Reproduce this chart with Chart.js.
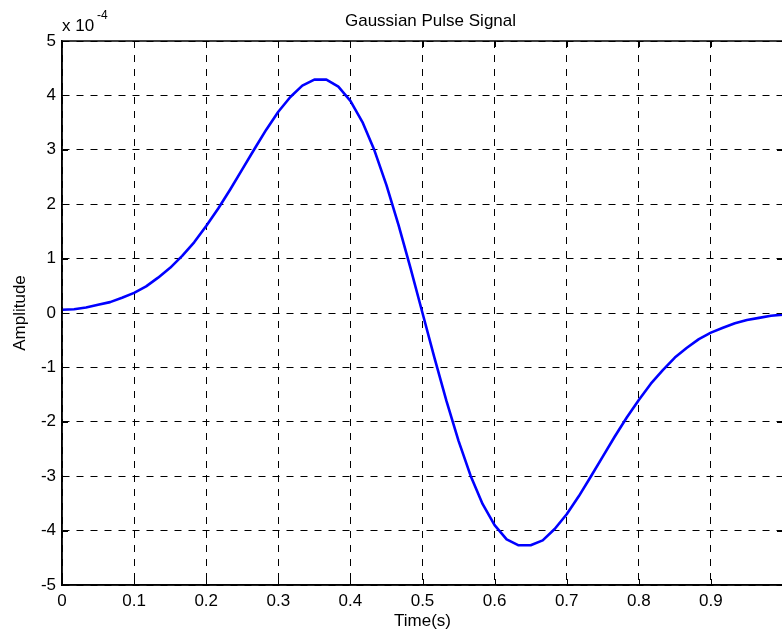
<!DOCTYPE html>
<html>
<head>
<meta charset="utf-8">
<script src="https://cdn.jsdelivr.net/npm/chart.js@4"></script>
<style>
  html, body { margin: 0; padding: 0; background: #fff; overflow: hidden; }
  #wrap { width: 800px; height: 637px; position: relative; }
</style>
</head>
<body>
<div id="wrap"><canvas id="pulse-chart"></canvas></div>
<script>
// time samples (s)
let timeValues = [0, 0.0167, 0.0333, 0.05, 0.0667, 0.0833, 0.1, 0.1167, 0.1333, 0.15,
    0.1667, 0.1833, 0.2, 0.2167, 0.2333, 0.25, 0.2667, 0.2833, 0.3, 0.3167,
    0.3333, 0.35, 0.3667, 0.3833, 0.4, 0.4167, 0.4333, 0.45, 0.4667, 0.4833,
    0.5, 0.5167, 0.5333, 0.55, 0.5667, 0.5833, 0.6, 0.6167, 0.6333, 0.65,
    0.6667, 0.6833, 0.7, 0.7167, 0.7333, 0.75, 0.7667, 0.7833, 0.8, 0.8167,
    0.8333, 0.85, 0.8667, 0.8833, 0.9, 0.9167, 0.9333, 0.95, 0.9667, 0.9833, 1];

// amplitude in units of 1e-4
let amplitudeValues = [0.06, 0.07, 0.10, 0.15, 0.20, 0.28, 0.37, 0.49, 0.65, 0.83,
    1.05, 1.30, 1.60, 1.92, 2.27, 2.64, 3.01, 3.37, 3.70, 3.97,
    4.18, 4.29, 4.29, 4.16, 3.90, 3.51, 2.99, 2.35, 1.62, 0.83,
    0, -0.83, -1.62, -2.35, -2.99, -3.51, -3.90, -4.16, -4.27, -4.27,
    -4.18, -3.97, -3.70, -3.37, -3.01, -2.64, -2.27, -1.92, -1.60, -1.30,
    -1.05, -0.82, -0.64, -0.48, -0.36, -0.27, -0.19, -0.13, -0.09, -0.05, -0.03];

// last label ("1") falls off the right edge of the picture
let xTickLabels = ["0", "0.1", "0.2", "0.3", "0.4", "0.5", "0.6", "0.7", "0.8", "0.9", ""];
let yTickLabels = ["-5", "-4", "-3", "-2", "-1", "0", "1", "2", "3", "4", "5"];

let fontFamily = '"Liberation Sans", Arial, Helvetica, sans-serif';

let points = timeValues.map((t, i) => ({ x: t, y: amplitudeValues[i] }));

// title, axis labels, exponent, box and inward ticks (matlab look)
let matlabDecor = {
    id: 'matlabDecor',
    afterDraw(chart) {
        let ctx = chart.ctx;
        let area = chart.chartArea;
        let xs = chart.scales.x;
        let ys = chart.scales.y;
        ctx.save();

        ctx.strokeStyle = "#000";
        ctx.lineWidth = 1.5;
        ctx.strokeRect(area.left, area.top, area.right - area.left, area.bottom - area.top);

        ctx.lineWidth = 1;
        ctx.beginPath();
        xs.ticks.forEach(tk => {
            let px = Math.round(xs.getPixelForValue(tk.value)) + 0.5;
            ctx.moveTo(px, area.bottom); ctx.lineTo(px, area.bottom - 6);
            ctx.moveTo(px, area.top); ctx.lineTo(px, area.top + 6);
        });
        ys.ticks.forEach(tk => {
            let py = Math.round(ys.getPixelForValue(tk.value)) + 0.5;
            ctx.moveTo(area.left, py); ctx.lineTo(area.left + 6, py);
            ctx.moveTo(area.right, py); ctx.lineTo(area.right - 6, py);
        });
        ctx.stroke();

        ctx.fillStyle = "#000";
        ctx.font = "17px " + fontFamily;
        ctx.textBaseline = "alphabetic";
        ctx.textAlign = "center";
        ctx.fillText("Gaussian Pulse Signal", (area.left + area.right) / 2 + 8, 26);
        ctx.fillText("Time(s)", (area.left + area.right) / 2, 626);

        ctx.textAlign = "left";
        ctx.fillText("x 10", area.left, 31);
        ctx.font = "12px " + fontFamily;
        ctx.fillText("-4", area.left + 35, 19);

        ctx.font = "17px " + fontFamily;
        ctx.translate(25, (area.top + area.bottom) / 2);
        ctx.rotate(-Math.PI / 2);
        ctx.textAlign = "center";
        ctx.fillText("Amplitude", 0, 0);
        ctx.restore();
    }
};

let pulseChartEl = document.getElementById('pulse-chart');

let pulseConfig = {
    type: "line",
    data: {
        datasets: [
            {
                data: points,
                fill: false,
                tension: 0,
                borderColor: "#0000ff",
                borderWidth: 2.6,
                pointRadius: 0,
                borderJoinStyle: "round",
            },
        ]
    },
    options: {
        responsive: true,
        maintainAspectRatio: false,
        animation: false,
        layout: {
            padding: { top: 41, right: 17, left: 0, bottom: 0 }
        },
        plugins: {
            legend: { display: false },
            tooltip: { enabled: false },
        },
        scales: {
            x: {
                type: "linear",
                min: 0,
                max: 1,
                afterFit(scale) { scale.height = 52; },
                ticks: {
                    stepSize: 0.1,
                    color: "#000",
                    padding: 6,
                    maxRotation: 0,
                    autoSkip: false,
                    font: { family: fontFamily, size: 17 },
                    callback: (v, i) => xTickLabels[i]
                },
                grid: {
                    color: "#000",
                    lineWidth: 1,
                    drawTicks: false,
                },
                border: { display: true, color: "#000", width: 1.5, dash: [7, 7] },
            },
            y: {
                type: "linear",
                min: -5,
                max: 5,
                afterFit(scale) { scale.width = 62; },
                ticks: {
                    stepSize: 1,
                    color: "#000",
                    padding: 6,
                    font: { family: fontFamily, size: 17 },
                    callback: (v, i) => yTickLabels[i]
                },
                grid: {
                    color: "#000",
                    lineWidth: 1,
                    drawTicks: false,
                },
                border: { display: true, color: "#000", width: 1.5, dash: [7, 7] },
            }
        }
    },
    plugins: [matlabDecor]
};

let pulseChart = new Chart(pulseChartEl, pulseConfig);
</script>
</body>
</html>
